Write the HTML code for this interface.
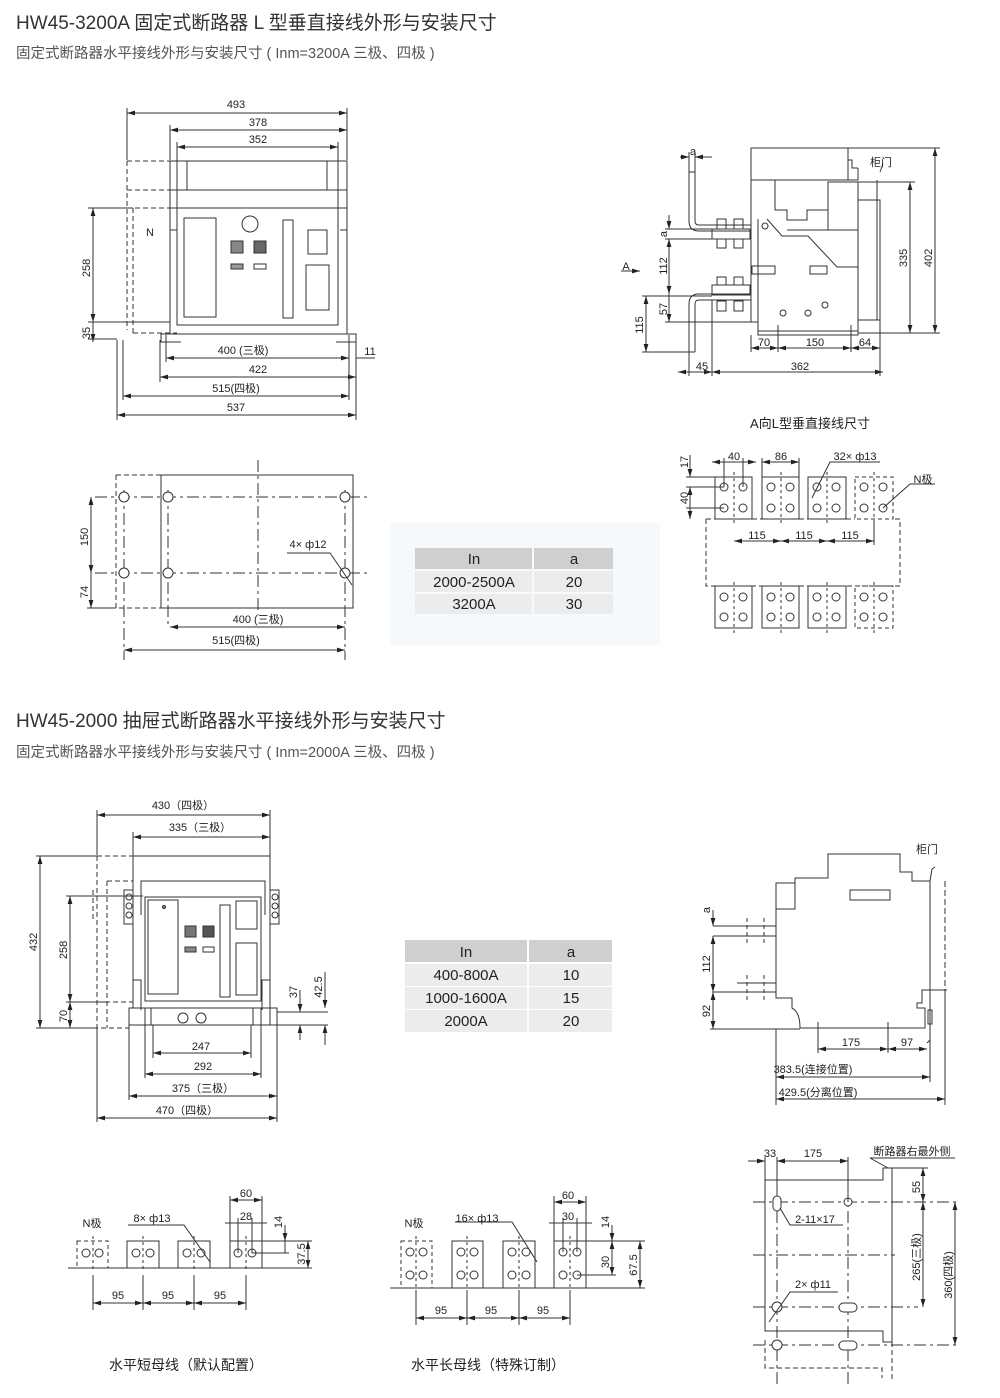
<!DOCTYPE html>
<html><head><meta charset="utf-8"><style>
html,body{margin:0;padding:0;background:#fff;}
svg{display:block;font-family:"Liberation Sans","Noto Sans CJK SC",sans-serif;}
.t{font-size:19px;fill:#333;}
.s{font-size:14.5px;fill:#555;}
.d{font-size:11px;fill:#222;}
.tb{font-size:15px;fill:#222;}
</style></head><body>
<svg width="1000" height="1398" viewBox="0 0 1000 1398" xmlns="http://www.w3.org/2000/svg">
<defs>
<marker id="a" viewBox="0 0 10 6" refX="10" refY="3" markerWidth="8" markerHeight="5" orient="auto-start-reverse" markerUnits="userSpaceOnUse"><path d="M0,0L10,3L0,6z" fill="#222"/></marker>
</defs>
<text x="16" y="29" class="t">HW45-3200A 固定式断路器 L 型垂直接线外形与安装尺寸</text>
<text x="16" y="58" class="s">固定式断路器水平接线外形与安装尺寸 ( Inm=3200A 三极、四极 )</text>
<text x="16" y="727" class="t">HW45-2000 抽屉式断路器水平接线外形与安装尺寸</text>
<text x="16" y="757" class="s">固定式断路器水平接线外形与安装尺寸 ( Inm=2000A 三极、四极 )</text>

<g stroke="#333" stroke-width="1" fill="none">
<!-- Front view 1 -->
<line x1="127" y1="113" x2="347" y2="113" marker-start="url(#a)" marker-end="url(#a)"/>
<line x1="170" y1="130" x2="347" y2="130" marker-start="url(#a)" marker-end="url(#a)"/>
<line x1="177" y1="147" x2="338" y2="147" marker-start="url(#a)" marker-end="url(#a)"/>
<line x1="127" y1="108" x2="127" y2="160"/><line x1="347" y1="108" x2="347" y2="160"/>
<line x1="170" y1="125" x2="170" y2="160"/><line x1="177" y1="142" x2="177" y2="208"/><line x1="338" y1="142" x2="338" y2="208"/>
<rect x="170" y="161" width="177" height="29"/>
<line x1="187" y1="161" x2="187" y2="190"/><line x1="327" y1="161" x2="327" y2="190"/>
<rect x="170" y="190" width="177" height="18"/>
<path d="M170,208V230h7M347,208V230h-7"/>
<rect x="177" y="208" width="161" height="117"/>
<path d="M170,230V324M347,230V324"/>
<path d="M170,324v10h-9v8h20M347,324v10h9v8h-20" />
<line x1="161" y1="334" x2="356" y2="334"/>
<g stroke-dasharray="5,3"><path d="M127,161H170M127,190H170M127,161V330M127,208H177M133,208V335M133,333H177"/></g>
<rect x="184" y="218" width="32" height="99"/>
<circle cx="250" cy="224" r="8"/>
<rect x="231" y="241" width="12" height="12" fill="#888"/><rect x="254" y="241" width="12" height="12" fill="#666"/>
<rect x="231" y="264" width="12" height="5" fill="#999"/><rect x="254" y="264" width="12" height="5"/>
<rect x="283" y="220" width="10" height="98"/>
<rect x="308" y="230" width="19" height="24"/><rect x="306" y="265" width="23" height="45"/>
<line x1="93" y1="208" x2="93" y2="322" marker-start="url(#a)" marker-end="url(#a)"/>
<line x1="93" y1="322" x2="93" y2="342" marker-end="url(#a)"/>
<path d="M88,208H133M88,322H170M88,339H117"/>
<line x1="166" y1="358" x2="349" y2="358" marker-start="url(#a)" marker-end="url(#a)"/>
<line x1="356" y1="358" x2="375" y2="358"/>
<line x1="160" y1="377" x2="356" y2="377" marker-start="url(#a)" marker-end="url(#a)"/>
<line x1="123" y1="396" x2="349" y2="396" marker-start="url(#a)" marker-end="url(#a)"/>
<line x1="117" y1="415" x2="356" y2="415" marker-start="url(#a)" marker-end="url(#a)"/>
<path d="M166,335V362M349,335V400M356,340V420M160,340V382M123,340V400M117,340V420"/>

<!-- Mounting plan -->
<rect x="161" y="475" width="192" height="133"/>
<path d="M116,475H161M116,475V608H161" stroke-dasharray="5,3"/>
<path d="M95,497H370M95,573H370" stroke-dasharray="12,4,3,4"/>
<path d="M124,490V660M168,490V627M345,490V660M258,460V615" stroke-dasharray="12,4,3,4"/>
<circle cx="124" cy="497" r="5" fill="#fff"/><circle cx="168" cy="497" r="5" fill="#fff"/><circle cx="345" cy="497" r="5" fill="#fff"/>
<circle cx="124" cy="573" r="5" fill="#fff"/><circle cx="168" cy="573" r="5" fill="#fff"/><circle cx="345" cy="573" r="5" fill="#fff"/>
<line x1="91" y1="497" x2="91" y2="573" marker-start="url(#a)" marker-end="url(#a)"/>
<line x1="91" y1="573" x2="91" y2="608" marker-end="url(#a)"/>
<path d="M87,608H116"/>
<line x1="170" y1="627" x2="345" y2="627" marker-start="url(#a)" marker-end="url(#a)"/>
<line x1="124" y1="650" x2="345" y2="650" marker-start="url(#a)" marker-end="url(#a)"/>
<path d="M287,553H330L352,585"/>
</g>
<g class="d" text-anchor="middle">
<text x="236" y="108">493</text><text x="258" y="126">378</text><text x="258" y="143">352</text>
<text x="150" y="236" text-anchor="middle">N</text>
<text x="243" y="354">400 (三极)</text><text x="370" y="355">11</text>
<text x="258" y="373">422</text><text x="236" y="392">515(四极)</text><text x="236" y="411">537</text>
<text x="258" y="623">400 (三极)</text><text x="236" y="644">515(四极)</text>
<text x="308" y="548">4× ф12</text>
<text transform="translate(90,268) rotate(-90)">258</text>
<text transform="translate(90,333) rotate(-90)">35</text>
<text transform="translate(88,537) rotate(-90)">150</text>
<text transform="translate(88,592) rotate(-90)">74</text>
</g>

<!-- Table 1 -->
<rect x="390" y="523" width="270" height="122" fill="#f6f9fc"/>
<rect x="415" y="548" width="117" height="21" fill="#cfcfcf"/><rect x="534" y="548" width="79" height="21" fill="#cfcfcf"/>
<rect x="415" y="571" width="117" height="21" fill="#ececec"/><rect x="534" y="571" width="79" height="21" fill="#ececec"/>
<rect x="415" y="594" width="117" height="20" fill="#ececec"/><rect x="534" y="594" width="79" height="20" fill="#ececec"/>
<g class="tb" text-anchor="middle">
<text x="474" y="564">In</text><text x="574" y="564">a</text>
<text x="474" y="587">2000-2500A</text><text x="574" y="587">20</text>
<text x="474" y="609">3200A</text><text x="574" y="609">30</text>
</g>

<!-- Side view 1 -->
<g stroke="#333" stroke-width="1" fill="none">
<rect x="751" y="148" width="97" height="32"/>
<path d="M848,150v10h4v8h6M848,180h10v-12"/>
<path d="M751,180V322h7M758,180H775V210H787V220h20V210H828V182"/>
<path d="M828,182h30V230H787"/>
<rect x="828" y="182" width="30" height="48"/>
<path d="M858,200h22V320h-22"/>
<path d="M880,210v110"/><path d="M877,180v140"/>
<path d="M758,219V331H858V230M767,219L782,236H808L837,267H858"/>
<rect x="752" y="266" width="23" height="8"/><rect x="810" y="266" width="17" height="8"/>
<rect x="758" y="331" width="100" height="4"/>
<circle cx="765" cy="226" r="3"/><circle cx="783" cy="313" r="3"/><circle cx="808" cy="313" r="3"/><circle cx="825" cy="305" r="3"/>
<path d="M689,172V221q0,10 10,10H751M695,172V221q0,4 4,4H751M689,172h6"/>
<rect x="712" y="229" width="38" height="10"/>
<rect x="717" y="219" width="9" height="10"/><rect x="734" y="219" width="9" height="10"/>
<rect x="717" y="239" width="9" height="9"/><rect x="734" y="239" width="9" height="9"/>
<path d="M689,352V304q0,-10 10,-10H751M695,352V304q0,-4 4,-4H751M689,352h6"/>
<rect x="712" y="285" width="38" height="10"/>
<rect x="717" y="277" width="9" height="8"/><rect x="734" y="277" width="9" height="8"/>
<rect x="717" y="301" width="9" height="10"/><rect x="734" y="301" width="9" height="10"/>
<line x1="680" y1="157" x2="689" y2="157" marker-end="url(#a)"/><line x1="712" y1="157" x2="695" y2="157" marker-end="url(#a)"/>
<path d="M689,152V172M695,152V172"/>
<line x1="669" y1="215" x2="669" y2="229" marker-end="url(#a)"/>
<line x1="669" y1="239" x2="669" y2="294" marker-start="url(#a)" marker-end="url(#a)"/>
<line x1="669" y1="294" x2="669" y2="322" marker-end="url(#a)"/>
<path d="M665,229H712M665,239H712M665,322H751M642,296H712"/>
<line x1="646" y1="296" x2="646" y2="352" marker-start="url(#a)" marker-end="url(#a)"/>
<path d="M642,352H689"/>
<path d="M621,271H634"/><path d="M630,271h10" marker-end="url(#a)"/>
<line x1="751" y1="348" x2="778" y2="348" marker-start="url(#a)" marker-end="url(#a)"/>
<line x1="778" y1="348" x2="851" y2="348" marker-start="url(#a)" marker-end="url(#a)"/>
<line x1="851" y1="348" x2="880" y2="348" marker-start="url(#a)" marker-end="url(#a)"/>
<line x1="678" y1="372" x2="712" y2="372" marker-start="url(#a)" marker-end="url(#a)"/>
<line x1="712" y1="372" x2="883" y2="372" marker-start="url(#a)" marker-end="url(#a)"/>
<path d="M751,335V352M778,325V352M851,325V352M880,320V376M712,300V376M689,352V376"/>
<line x1="910" y1="182" x2="910" y2="333" marker-start="url(#a)" marker-end="url(#a)"/>
<line x1="935" y1="148" x2="935" y2="333" marker-start="url(#a)" marker-end="url(#a)"/>
<path d="M858,182H915M848,148H940M858,333H940"/>
<path d="M880,172l3,-8"/>
</g>
<g class="d" text-anchor="middle">
<text x="693" y="155">a</text><text x="881" y="166">柜门</text>
<text x="626" y="270">A</text>
<text x="764" y="346">70</text><text x="815" y="346">150</text><text x="865" y="346">64</text>
<text x="702" y="370">45</text><text x="800" y="370">362</text>
<text transform="translate(667,234) rotate(-90)">a</text>
<text transform="translate(667,266) rotate(-90)">112</text>
<text transform="translate(667,309) rotate(-90)">57</text>
<text transform="translate(643,325) rotate(-90)">115</text>
<text transform="translate(907,258) rotate(-90)">335</text>
<text transform="translate(932,258) rotate(-90)">402</text>
</g>
<text x="810" y="428" text-anchor="middle" style="font-size:13px" fill="#222">A向L型垂直接线尺寸</text>

<!-- A view busbars -->
<g stroke="#333" stroke-width="1" fill="none">
<path d="M706,519V586H900V519H893M706,519H715M752,519h10M799,519h9M846,519h9" stroke-dasharray="5,3"/>
<rect x="715" y="477" width="37" height="42"/><rect x="762" y="477" width="37" height="42"/><rect x="808" y="477" width="38" height="42"/>
<rect x="855" y="477" width="38" height="42" stroke-dasharray="4,3"/>
<rect x="715" y="586" width="37" height="42"/><rect x="762" y="586" width="37" height="42"/><rect x="808" y="586" width="38" height="42"/>
<rect x="855" y="586" width="38" height="42" stroke-dasharray="4,3"/>
<g stroke-dasharray="3,3"><path d="M734,472V524M781,472V524M827,472V524M874,472V524M734,582V634M781,582V634M827,582V634M874,582V634"/></g>
<g fill="#fff">
<circle cx="724" cy="487" r="4"/><circle cx="743" cy="487" r="4"/><circle cx="724" cy="508" r="4"/><circle cx="743" cy="508" r="4"/>
<circle cx="771" cy="487" r="4"/><circle cx="790" cy="487" r="4"/><circle cx="771" cy="508" r="4"/><circle cx="790" cy="508" r="4"/>
<circle cx="817" cy="487" r="4"/><circle cx="836" cy="487" r="4"/><circle cx="817" cy="508" r="4"/><circle cx="836" cy="508" r="4"/>
<circle cx="864" cy="487" r="4"/><circle cx="883" cy="487" r="4"/><circle cx="864" cy="508" r="4"/><circle cx="883" cy="508" r="4"/>
<circle cx="724" cy="597" r="4"/><circle cx="743" cy="597" r="4"/><circle cx="724" cy="617" r="4"/><circle cx="743" cy="617" r="4"/>
<circle cx="771" cy="597" r="4"/><circle cx="790" cy="597" r="4"/><circle cx="771" cy="617" r="4"/><circle cx="790" cy="617" r="4"/>
<circle cx="817" cy="597" r="4"/><circle cx="836" cy="597" r="4"/><circle cx="817" cy="617" r="4"/><circle cx="836" cy="617" r="4"/>
<circle cx="864" cy="597" r="4"/><circle cx="883" cy="597" r="4"/><circle cx="864" cy="617" r="4"/><circle cx="883" cy="617" r="4"/>
</g>
<line x1="712" y1="462" x2="756" y2="462" marker-start="url(#a)" marker-end="url(#a)"/>
<line x1="762" y1="462" x2="799" y2="462" marker-start="url(#a)" marker-end="url(#a)"/>
<path d="M724,458V487M743,458V487M762,458V477M799,458V477"/>
<line x1="690" y1="455" x2="690" y2="477" marker-end="url(#a)"/>
<line x1="690" y1="487" x2="690" y2="519" marker-start="url(#a)" marker-end="url(#a)"/>
<path d="M686,477H715M686,487H724M686,508H724"/>
<line x1="734" y1="541" x2="781" y2="541" marker-start="url(#a)" marker-end="url(#a)"/>
<line x1="781" y1="541" x2="827" y2="541" marker-start="url(#a)" marker-end="url(#a)"/>
<line x1="827" y1="541" x2="874" y2="541" marker-start="url(#a)" marker-end="url(#a)"/>
<path d="M874,520V545"/>
<path d="M880,462H830L812,498M883,508L910,484H935"/>
</g>
<g class="d" text-anchor="middle">
<text x="734" y="460">40</text><text x="781" y="460">86</text><text x="855" y="460">32× ф13</text><text x="923" y="483">N极</text>
<text x="757" y="539">115</text><text x="804" y="539">115</text><text x="850" y="539">115</text>
<text transform="translate(688,462) rotate(-90)">17</text>
<text transform="translate(688,498) rotate(-90)">40</text>
</g>

<!-- Front view 2 -->
<g stroke="#333" stroke-width="1" fill="none">
<line x1="97" y1="815" x2="270" y2="815" marker-start="url(#a)" marker-end="url(#a)"/>
<line x1="133" y1="837" x2="270" y2="837" marker-start="url(#a)" marker-end="url(#a)"/>
<path d="M97,810V855M133,832V856M270,810V856"/>
<path d="M133,856H270V1025M133,856V1008"/>
<path d="M141,915V881H265V915"/>
<rect x="145" y="897" width="116" height="104"/>
<rect x="148" y="900" width="30" height="94"/>
<circle cx="164" cy="907" r="1.5" fill="#888"/>
<rect x="185" y="926" width="11" height="11" fill="#777"/><rect x="203" y="926" width="11" height="11" fill="#555"/>
<rect x="185" y="947" width="11" height="5" fill="#888"/><rect x="203" y="947" width="11" height="5"/>
<rect x="220" y="905" width="10" height="92"/>
<rect x="236" y="901" width="21" height="28"/><rect x="236" y="943" width="21" height="52"/>
<path d="M133,980h8v30M270,980h-8v30"/>
<rect x="129" y="1008" width="148" height="17"/>
<path d="M145,1008v17M151,1008v17M253,1008v17M261,1008v17"/>
<circle cx="183" cy="1018" r="5"/><circle cx="201" cy="1018" r="5"/>
<rect x="124" y="890" width="9" height="34"/><rect x="270" y="890" width="9" height="34"/>
<circle cx="129" cy="897" r="3"/><circle cx="129" cy="906" r="3"/><circle cx="129" cy="915" r="3"/>
<circle cx="275" cy="897" r="3"/><circle cx="275" cy="906" r="3"/><circle cx="275" cy="915" r="3"/>
<g stroke-dasharray="5,3"><path d="M97,856H133M97,856V1028H129M107,881H133M107,881V1028M93,890V920M105,1002H133"/></g>
<line x1="40" y1="856" x2="40" y2="1028" marker-start="url(#a)" marker-end="url(#a)"/>
<line x1="70" y1="896" x2="70" y2="1002" marker-start="url(#a)" marker-end="url(#a)"/>
<line x1="70" y1="1002" x2="70" y2="1028" marker-start="url(#a)" marker-end="url(#a)"/>
<path d="M36,856H97M66,896H143M66,1002H107M36,1028H97"/>
<line x1="153" y1="1053" x2="251" y2="1053" marker-start="url(#a)" marker-end="url(#a)"/>
<line x1="145" y1="1074" x2="261" y2="1074" marker-start="url(#a)" marker-end="url(#a)"/>
<line x1="129" y1="1096" x2="277" y2="1096" marker-start="url(#a)" marker-end="url(#a)"/>
<line x1="97" y1="1118" x2="277" y2="1118" marker-start="url(#a)" marker-end="url(#a)"/>
<path d="M153,1025V1058M251,1025V1058M145,1025V1078M261,1025V1078M129,1025V1100M277,1025V1122M97,1028V1122"/>
<line x1="300" y1="990" x2="300" y2="1012" marker-end="url(#a)"/>
<line x1="300" y1="1040" x2="300" y2="1025" marker-end="url(#a)"/>
<line x1="325" y1="972" x2="325" y2="1008" marker-end="url(#a)"/>
<line x1="325" y1="1045" x2="325" y2="1025" marker-end="url(#a)"/>
<path d="M277,1012H328M277,1025H328"/>
</g>
<g class="d" text-anchor="middle">
<text x="183" y="809">430（四极）</text><text x="200" y="831">335（三极）</text>
<text x="201" y="1050">247</text><text x="203" y="1070">292</text><text x="203" y="1092">375（三极）</text><text x="187" y="1114">470（四极）</text>
<text transform="translate(37,942) rotate(-90)">432</text>
<text transform="translate(67,950) rotate(-90)">258</text>
<text transform="translate(67,1016) rotate(-90)">70</text>
<text transform="translate(297,992) rotate(-90)">37</text>
<text transform="translate(322,987) rotate(-90)">42.5</text>
</g>

<!-- Table 2 -->
<rect x="405" y="940" width="122" height="22" fill="#cfcfcf"/><rect x="529" y="940" width="83" height="22" fill="#cfcfcf"/>
<rect x="405" y="964" width="122" height="22" fill="#ececec"/><rect x="529" y="964" width="83" height="22" fill="#ececec"/>
<rect x="405" y="987" width="122" height="22" fill="#ececec"/><rect x="529" y="987" width="83" height="22" fill="#ececec"/>
<rect x="405" y="1010" width="122" height="22" fill="#ececec"/><rect x="529" y="1010" width="83" height="22" fill="#ececec"/>
<g class="tb" text-anchor="middle">
<text x="466" y="957">In</text><text x="571" y="957">a</text>
<text x="466" y="980">400-800A</text><text x="571" y="980">10</text>
<text x="466" y="1003">1000-1600A</text><text x="571" y="1003">15</text>
<text x="466" y="1026">2000A</text><text x="571" y="1026">20</text>
</g>

<!-- Side view 2 -->
<g stroke="#333" stroke-width="1" fill="none">
<path d="M776,909V883H795V878H828V854H900V872H912V881H930V990H922V1003H917V1008H925V1028H800Q800,1012 792,1008V998H776V909M776,883H795V909H776"/>
<rect x="850" y="890" width="40" height="10"/>
<path d="M930,881V1040l-3,3M930,881l2,-12l3,-2"/>
<rect x="928" y="1010" width="4" height="14"/>
<path d="M945,881V990" stroke-dasharray="6,3"/>
<path d="M930,990H947"/>
<path d="M737,926H776V936H737M713,926H737M713,936H737"/>
<path d="M737,983H776V992H737M713,992H737"/>
<path d="M747,918V945M764,918V945M747,975V1003M764,975V1003" stroke-dasharray="4,3"/>
<line x1="713" y1="910" x2="713" y2="926" marker-end="url(#a)"/>
<line x1="713" y1="936" x2="713" y2="992" marker-start="url(#a)" marker-end="url(#a)"/>
<line x1="713" y1="992" x2="713" y2="1029" marker-start="url(#a)" marker-end="url(#a)"/>
<path d="M710,1029H800"/>
<line x1="818" y1="1049" x2="888" y2="1049" marker-start="url(#a)" marker-end="url(#a)"/>
<line x1="888" y1="1049" x2="927" y2="1049" marker-start="url(#a)" marker-end="url(#a)"/>
<path d="M818,1022V1053M888,1022V1053"/>
<line x1="776" y1="1077" x2="930" y2="1077" marker-start="url(#a)" marker-end="url(#a)"/>
<line x1="776" y1="1099" x2="945" y2="1099" marker-start="url(#a)" marker-end="url(#a)"/>
<path d="M776,1029V1105M930,1040V1082M945,990V1105"/>
</g>
<g class="d" text-anchor="middle">
<text x="927" y="853">柜门</text>
<text x="851" y="1046">175</text><text x="907" y="1046">97</text>
<text x="813" y="1073">383.5(连接位置)</text><text x="818" y="1096">429.5(分离位置)</text>
<text transform="translate(710,910) rotate(-90)">a</text>
<text transform="translate(710,964) rotate(-90)">112</text>
<text transform="translate(710,1011) rotate(-90)">92</text>
</g>

<!-- Short busbar -->
<g stroke="#333" stroke-width="1" fill="none">
<path d="M68,1268H240"/>
<rect x="77" y="1241" width="31" height="27" stroke-dasharray="4,3"/>
<rect x="127" y="1241" width="32" height="27"/><rect x="178" y="1241" width="32" height="27"/><rect x="230" y="1241" width="32" height="27"/>
<path d="M93,1236V1272M143,1236V1272M194,1236V1272M246,1236V1272" stroke-dasharray="3,3"/>
<g fill="#fff"><circle cx="86" cy="1253" r="4"/><circle cx="99" cy="1253" r="4"/><circle cx="136" cy="1253" r="4"/><circle cx="150" cy="1253" r="4"/><circle cx="187" cy="1253" r="4"/><circle cx="201" cy="1253" r="4"/><circle cx="238" cy="1253" r="4"/><circle cx="252" cy="1253" r="4"/></g>
<path d="M93,1275V1310M143,1275V1310M194,1275V1310M246,1275V1310"/>
<line x1="93" y1="1303" x2="143" y2="1303" marker-start="url(#a)" marker-end="url(#a)"/>
<line x1="143" y1="1303" x2="194" y2="1303" marker-start="url(#a)" marker-end="url(#a)"/>
<line x1="194" y1="1303" x2="246" y2="1303" marker-start="url(#a)" marker-end="url(#a)"/>
<line x1="230" y1="1200" x2="262" y2="1200" marker-start="url(#a)" marker-end="url(#a)"/>
<path d="M230,1196V1241M262,1196V1241"/>
<line x1="225" y1="1223" x2="267" y2="1223"/>
<path d="M238,1218V1253M252,1218V1253"/>
<line x1="285" y1="1225" x2="285" y2="1241" marker-end="url(#a)"/>
<line x1="285" y1="1253" x2="285" y2="1241"/>
<line x1="308" y1="1241" x2="308" y2="1268" marker-start="url(#a)" marker-end="url(#a)"/>
<path d="M262,1241H312M252,1253H289M262,1268H312"/>
<path d="M128,1225H184L210,1262"/>
</g>
<g class="d" text-anchor="middle">
<text x="92" y="1227">N极</text><text x="152" y="1222">8× ф13</text>
<text x="246" y="1197">60</text><text x="246" y="1220">28</text>
<text x="118" y="1299">95</text><text x="168" y="1299">95</text><text x="220" y="1299">95</text>
<text transform="translate(282,1222) rotate(-90)">14</text>
<text transform="translate(305,1254) rotate(-90)">37.5</text>
</g>
<text x="186" y="1370" text-anchor="middle" style="font-size:14px" fill="#222">水平短母线（默认配置）</text>

<!-- Long busbar -->
<g stroke="#333" stroke-width="1" fill="none">
<path d="M390,1288H600"/>
<rect x="401" y="1241" width="31" height="47" stroke-dasharray="4,3"/>
<rect x="452" y="1241" width="31" height="47"/><rect x="503" y="1241" width="32" height="47"/><rect x="554" y="1241" width="32" height="47"/>
<path d="M416,1236V1292M467,1236V1292M519,1236V1292M570,1236V1292" stroke-dasharray="3,3"/>
<g fill="#fff">
<circle cx="410" cy="1252" r="4"/><circle cx="423" cy="1252" r="4"/><circle cx="410" cy="1275" r="4"/><circle cx="423" cy="1275" r="4"/>
<circle cx="461" cy="1252" r="4"/><circle cx="474" cy="1252" r="4"/><circle cx="461" cy="1275" r="4"/><circle cx="474" cy="1275" r="4"/>
<circle cx="512" cy="1252" r="4"/><circle cx="526" cy="1252" r="4"/><circle cx="512" cy="1275" r="4"/><circle cx="526" cy="1275" r="4"/>
<circle cx="563" cy="1252" r="4"/><circle cx="577" cy="1252" r="4"/><circle cx="563" cy="1275" r="4"/><circle cx="577" cy="1275" r="4"/>
</g>
<path d="M416,1292V1325M467,1292V1325M519,1292V1325M570,1292V1325"/>
<line x1="416" y1="1318" x2="467" y2="1318" marker-start="url(#a)" marker-end="url(#a)"/>
<line x1="467" y1="1318" x2="519" y2="1318" marker-start="url(#a)" marker-end="url(#a)"/>
<line x1="519" y1="1318" x2="570" y2="1318" marker-start="url(#a)" marker-end="url(#a)"/>
<line x1="554" y1="1202" x2="586" y2="1202" marker-start="url(#a)" marker-end="url(#a)"/>
<path d="M554,1196V1241M586,1196V1241"/>
<line x1="549" y1="1223" x2="592" y2="1223"/>
<path d="M563,1218V1252M577,1218V1252"/>
<line x1="612" y1="1225" x2="612" y2="1241" marker-end="url(#a)"/>
<line x1="612" y1="1241" x2="612" y2="1275" marker-start="url(#a)" marker-end="url(#a)"/>
<line x1="640" y1="1241" x2="640" y2="1288" marker-start="url(#a)" marker-end="url(#a)"/>
<path d="M586,1241H645M577,1275H616M586,1288H645"/>
<path d="M455,1222H512L537,1262"/>
</g>
<g class="d" text-anchor="middle">
<text x="414" y="1227">N极</text><text x="477" y="1222">16× ф13</text>
<text x="568" y="1199">60</text><text x="568" y="1220">30</text>
<text x="441" y="1314">95</text><text x="491" y="1314">95</text><text x="543" y="1314">95</text>
<text transform="translate(609,1222) rotate(-90)">14</text>
<text transform="translate(609,1262) rotate(-90)">30</text>
<text transform="translate(637,1265) rotate(-90)">67.5</text>
</g>
<text x="488" y="1370" text-anchor="middle" style="font-size:14px" fill="#222">水平长母线（特殊订制）</text>

<!-- Bottom-right mounting -->
<g stroke="#333" stroke-width="1" fill="none">
<path d="M765,1180H883V1168H892V1342H883V1331H765Z"/>
<path d="M765,1340V1368H882V1378M892,1342V1380" stroke-dasharray="5,3"/>
<path d="M753,1202H960M753,1255H895M753,1307H918M753,1345H960" stroke-dasharray="12,4,3,4"/>
<path d="M777,1165V1385M848,1165V1385" stroke-dasharray="12,4,3,4"/>
<rect x="773" y="1196" width="8" height="15" rx="4" fill="#fff"/>
<circle cx="848" cy="1202" r="4" fill="#fff"/>
<circle cx="777" cy="1307" r="5" fill="#fff"/><rect x="839" y="1303" width="18" height="9" rx="4.5" fill="#fff"/>
<circle cx="777" cy="1345" r="5" fill="#fff"/><rect x="839" y="1341" width="18" height="9" rx="4.5" fill="#fff"/>
<line x1="748" y1="1161" x2="765" y2="1161" marker-end="url(#a)"/>
<line x1="790" y1="1161" x2="777" y2="1161" marker-end="url(#a)"/>
<line x1="777" y1="1161" x2="848" y2="1161" marker-start="url(#a)" marker-end="url(#a)"/>
<path d="M765,1157V1180M777,1157V1196M848,1157V1202"/>
<path d="M870,1158H955M870,1158l18,10"/>
<line x1="923" y1="1168" x2="923" y2="1202" marker-start="url(#a)" marker-end="url(#a)"/>
<line x1="923" y1="1202" x2="923" y2="1307" marker-start="url(#a)" marker-end="url(#a)"/>
<line x1="955" y1="1202" x2="955" y2="1345" marker-start="url(#a)" marker-end="url(#a)"/>
<path d="M892,1168H928"/>
<path d="M780,1208L790,1225H843M769,1322L790,1292H838"/>
</g>
<g class="d" text-anchor="middle">
<text x="770" y="1157">33</text><text x="813" y="1157">175</text><text x="912" y="1155">断路器右最外侧</text>
<text x="815" y="1223">2-11×17</text><text x="813" y="1288">2× ф11</text>
<text transform="translate(920,1187) rotate(-90)">55</text>
<text transform="translate(920,1257) rotate(-90)">265(三极)</text>
<text transform="translate(952,1275) rotate(-90)">360(四极)</text>
</g>
</svg>
</body></html>
